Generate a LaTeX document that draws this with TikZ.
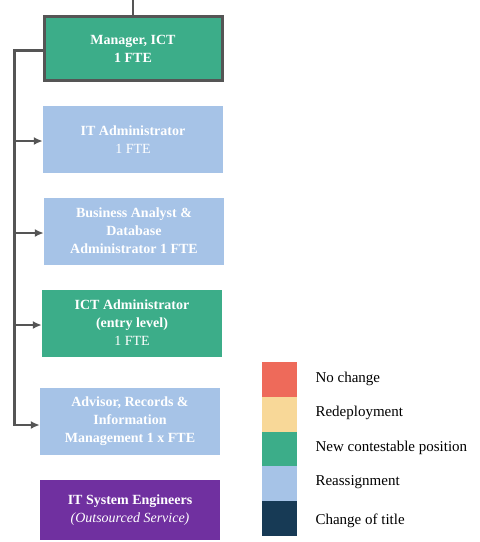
\documentclass[tikz,border=0pt]{standalone}
\usepackage{fontspec}
\setmainfont{Liberation Serif}
\usetikzlibrary{arrows.meta}
\definecolor{cnew}{HTML}{3CAD89}
\definecolor{creas}{HTML}{A6C3E7}
\definecolor{cred}{HTML}{EE6A5A}
\definecolor{cyel}{HTML}{F8D898}
\definecolor{cnavy}{HTML}{173A55}
\definecolor{cpurp}{HTML}{7030A0}
\definecolor{cline}{HTML}{555555}
\tikzset{
  role/.style={minimum width=180pt, minimum height=67pt, inner sep=2pt,
    text=white, font=\bfseries\fontsize{14}{18}\selectfont, align=center},
  key/.style={minimum width=35pt, minimum height=35pt, inner sep=0pt},
  keytext/.style={anchor=west, font=\fontsize{15}{16}\selectfont, text=black},
  link/.style={draw=cline, line width=1.8pt, -{Latex[length=9pt,width=8pt]}},
  spine/.style={draw=cline, line width=3pt}
}
\begin{document}
\begin{tikzpicture}[x=1pt, y=-1pt]
\useasboundingbox (0,0) rectangle (480,542);
% organisation boxes
\node[role, fill=cnew, draw=cline, line width=3pt, minimum width=178pt, minimum height=64pt] (mgr) at (133,48.5) {Manager, ICT\\1 FTE};
\node[role, fill=creas] (ita) at (133,139.5) {IT Administrator\\{\mdseries 1 FTE}};
\node[role, fill=creas] (ba) at (134,231) {Business Analyst \&\\Database\\Administrator 1 FTE};
\node[role, fill=cnew] (icta) at (132,323) {ICT Administrator\\(entry level)\\{\mdseries 1 FTE}};
\node[role, fill=creas] (adv) at (130,421.5) {Advisor, Records \&\\Information\\Management 1 x FTE};
\node[role, fill=cpurp, minimum height=60pt] (ise) at (130,510) {IT System Engineers\\{\mdseries\itshape (Outsourced Service)}};
% reporting lines
\coordinate (top) at (133,0);
\draw[spine, line width=2pt] (top) -- (mgr.north);
\coordinate (s0) at (14,50);
\coordinate (s1) at (14,426);
\draw[spine] (mgr.west |- s0) -- (s0) -- (s1);
\draw[link] (14,141) -- (ita.west |- 0,141);
\draw[link] (14,233) -- (ba.west |- 0,233);
\draw[link] (14,325) -- (icta.west |- 0,325);
\draw[link] (14,425) -- (adv.west |- 0,425);
% legend
\node[key, fill=cred] (k1) at (279.5,379.5) {};
\node[key, fill=cyel] (k2) at (279.5,414.5) {};
\node[key, fill=cnew] (k3) at (279.5,449.5) {};
\node[key, fill=creas] (k4) at (279.5,483.5) {};
\node[key, fill=cnavy] (k5) at (279.5,518) {};
\node[keytext] (t1) at (312,379) {No change};
\node[keytext] (t2) at (312,413) {Redeployment};
\node[keytext] (t3) at (312,448) {New contestable position};
\node[keytext] (t4) at (312,482) {Reassignment};
\node[keytext] (t5) at (312,521) {Change of title};
\end{tikzpicture}
\end{document}
